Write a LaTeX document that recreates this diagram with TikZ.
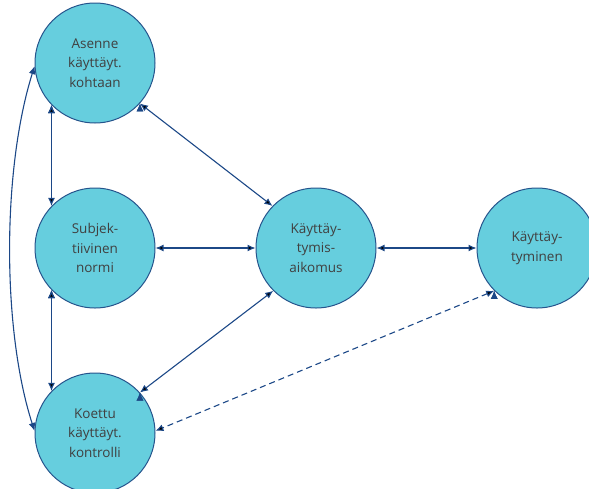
\documentclass[tikz,border=0pt]{standalone}
\usepackage{fontspec}
\setmainfont{Open Sans}
\usetikzlibrary{positioning,arrows.meta}
\definecolor{tpbfill}{RGB}{102,206,222}
\definecolor{tpbline}{RGB}{38,84,140}
\definecolor{tpbarrow}{RGB}{28,72,135}
\definecolor{tpbtext}{RGB}{64,64,64}
\begin{document}
\begin{tikzpicture}
[blob/.style={draw=tpbline,fill=tpbfill,line width=1pt,circle,minimum size=120pt,inner sep=0pt,
  align=center,text=tpbtext,font=\fontsize{13.5}{19.5}\selectfont},
 link/.style={draw=tpbarrow,line width=1.1pt,{Latex[length=8pt,width=7pt]}-{Latex[length=8pt,width=7pt]}},
 node distance=64pt and 100pt]
\useasboundingbox (0,0) rectangle (589pt,-488pt);
\node[blob](a) at (95pt,-63pt){Asenne\\käyttäyt.\\kohtaan};
\node[blob,below=of a](b){Subjek-\\tiivinen\\normi};
\node[blob,below=of b](c){Koettu\\käyttäyt.\\kontrolli};
\node[blob,right=of b](d){Käyttäy-\\tymis-\\aikomus};
\node[blob,right=of d](e){Käyttäy-\\tyminen};
\path[link] (a.-42) edge (d.136);
\path[link] (b) edge (d);
\path[link] (c.42) edge (d.225);
\path[link] (a.224) edge (b.136);
\path[link] (b.224) edge (c.136);
\path[link] (d) edge (e);
\path[link,dash pattern=on 6pt off 4pt] (e.225) edge (c.2);
\draw[link] (a.183) .. controls (2pt,-170pt) and (2pt,-330pt) .. (c.178);
\end{tikzpicture}
\end{document}
